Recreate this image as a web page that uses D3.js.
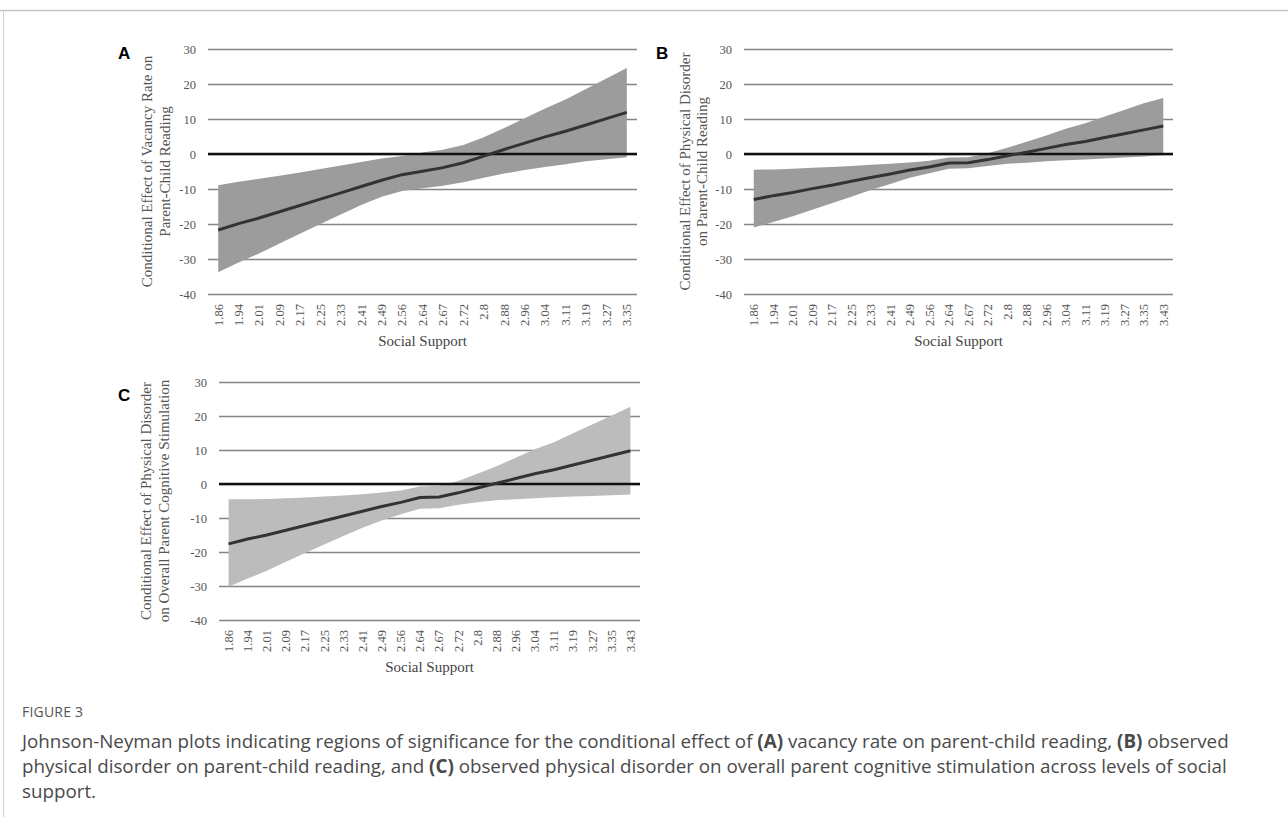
<!DOCTYPE html>
<html>
<head>
<meta charset="utf-8">
<script src="https://cdn.jsdelivr.net/npm/d3@7"></script>
<style>
  body { margin: 0; background: #fff; }
  svg { display: block; }
</style>
</head>
<body>
<svg id="fig" width="1288" height="817"></svg>
<script>
// x categories (social support levels)
const supportA = ['1.86', '1.94', '2.01', '2.09', '2.17', '2.25', '2.33', '2.41', '2.49', '2.56', '2.64',
    '2.67', '2.72', '2.8', '2.88', '2.96', '3.04', '3.11', '3.19', '3.27', '3.35'];
const supportBC = ['1.86', '1.94', '2.01', '2.09', '2.17', '2.25', '2.33', '2.41', '2.49', '2.56', '2.64',
    '2.67', '2.72', '2.8', '2.88', '2.96', '3.04', '3.11', '3.19', '3.27', '3.35', '3.43'];
const yTicks = [30, 20, 10, 0, -10, -20, -30, -40];

// A: vacancy rate -> parent-child reading
const effectA = [-21.7, -19.9, -18.3, -16.5, -14.7, -12.9, -11.1, -9.3, -7.5, -5.9, -4.9,
    -3.9, -2.5, -0.6, 1.3, 3.1, 4.9, 6.5, 8.3, 10.1, 11.9];
const upperA = [-8.9, -7.9, -7.1, -6.2, -5.3, -4.3, -3.3, -2.3, -1.3, -0.6, 0.4,
    1.2, 2.6, 4.8, 7.4, 10.2, 13.0, 15.6, 18.6, 21.6, 24.6];
const lowerA = [-33.8, -31.0, -28.4, -25.6, -22.8, -20.0, -17.3, -14.6, -12.2, -10.6, -9.8,
    -9.1, -8.1, -6.8, -5.6, -4.6, -3.7, -2.9, -2.1, -1.5, -0.9];

// B: physical disorder -> parent-child reading
const effectB = [-13.0, -11.9, -11.0, -9.9, -8.9, -7.8, -6.7, -5.7, -4.6, -3.7, -2.6,
    -2.5, -1.6, -0.5, 0.5, 1.6, 2.7, 3.6, 4.7, 5.8, 6.9, 8.0];
const upperB = [-4.5, -4.4, -4.2, -3.9, -3.7, -3.4, -3.1, -2.8, -2.4, -1.9, -1.0,
    -0.9, 0.2, 1.8, 3.5, 5.3, 7.2, 8.8, 10.7, 12.6, 14.5, 16.0];
const lowerB = [-21.0, -19.4, -17.8, -15.9, -14.1, -12.2, -10.3, -8.6, -6.8, -5.5, -4.2,
    -4.1, -3.4, -2.8, -2.5, -2.1, -1.8, -1.6, -1.3, -1.0, -0.7, -0.3];

// C: physical disorder -> overall parent cognitive stimulation
const effectC = [-17.6, -16.2, -15.0, -13.6, -12.2, -10.8, -9.4, -8.0, -6.6, -5.4, -4.0,
    -3.8, -2.6, -1.2, 0.2, 1.6, 3.0, 4.2, 5.6, 7.0, 8.4, 9.8];
const upperC = [-4.5, -4.5, -4.4, -4.2, -4.0, -3.7, -3.4, -3.0, -2.5, -1.9, -0.7,
    -0.5, 0.9, 3.0, 5.2, 7.7, 10.2, 12.3, 14.9, 17.5, 20.1, 22.7];
const lowerC = [-30.2, -27.8, -25.5, -22.9, -20.3, -17.8, -15.3, -12.9, -10.7, -8.9, -7.3,
    -7.1, -6.1, -5.4, -4.8, -4.5, -4.2, -3.9, -3.7, -3.5, -3.3, -3.1];

const serif = '"Liberation Serif", "Times New Roman", serif';
const svg = d3.select('#fig');

// page frame
svg.append('line').attr('x1', 0).attr('x2', 1288).attr('y1', 10.5).attr('y2', 10.5)
    .attr('stroke', '#c4c4c4').attr('stroke-width', 1.5);
svg.append('line').attr('x1', 3.5).attr('x2', 3.5).attr('y1', 10).attr('y2', 817)
    .attr('stroke', '#d0d0d0').attr('stroke-width', 1);

function drawPanel(p) {
    const x = d3.scaleBand().domain(p.cats).range([p.x0, p.x1]);
    const y = d3.scaleLinear().domain([-40, 30]).range([p.y1, p.y0]);
    const cx = (d) => x(d) + x.bandwidth() / 2;
    const g = svg.append('g');

    // horizontal gridlines + y labels
    const yAxis = g.append('g')
        .attr('transform', `translate(${p.x0},0)`)
        .call(d3.axisLeft(y).tickValues(yTicks).tickSize(-(p.x1 - p.x0)).tickPadding(12)
            .tickFormat((d) => String(d)));
    yAxis.select('.domain').remove();
    yAxis.selectAll('line').attr('stroke', '#858585').attr('stroke-width', 1.6);
    yAxis.selectAll('text').attr('fill', '#555').style('font-family', serif).style('font-size', '12.5px');

    // x labels, rotated
    const xAxis = g.append('g')
        .attr('transform', `translate(0,${p.y1})`)
        .call(d3.axisBottom(x).tickSize(0));
    xAxis.select('.domain').remove();
    xAxis.selectAll('text')
        .attr('transform', 'rotate(-90)')
        .attr('text-anchor', 'end')
        .attr('x', -10)
        .attr('y', 0)
        .attr('dy', '0.35em')
        .attr('fill', '#555')
        .style('font-family', serif)
        .style('font-size', '12.5px');

    // confidence band
    const area = d3.area()
        .x((d, i) => cx(p.cats[i]))
        .y0((d, i) => y(p.lower[i]))
        .y1((d) => y(d));
    g.append('path').datum(p.upper).attr('d', area).attr('fill', p.fill);

    // zero line
    g.append('line').attr('x1', p.x0).attr('x2', p.x1).attr('y1', y(0)).attr('y2', y(0))
        .attr('stroke', '#111').attr('stroke-width', 2.6);

    // conditional effect
    const line = d3.line().x((d, i) => cx(p.cats[i])).y((d) => y(d));
    g.append('path').datum(p.effect).attr('d', line)
        .attr('fill', 'none').attr('stroke', '#333').attr('stroke-width', 3);

    // axis titles
    const midY = (p.y0 + p.y1) / 2;
    p.title.forEach((t, i) => {
        g.append('text')
            .attr('transform', `translate(${p.titleX[i]},${midY}) rotate(-90)`)
            .attr('text-anchor', 'middle')
            .attr('dy', '0.35em')
            .attr('fill', '#555')
            .style('font-family', serif)
            .style('font-size', '15px')
            .text(t);
    });
    g.append('text')
        .attr('x', (p.x0 + p.x1) / 2).attr('y', p.xTitleY)
        .attr('text-anchor', 'middle').attr('dy', '0.35em')
        .attr('fill', '#444')
        .style('font-family', serif).style('font-size', '15px')
        .text('Social Support');

    // panel letter
    g.append('text')
        .attr('x', p.letterX).attr('y', p.letterY)
        .attr('dy', '0.35em')
        .attr('fill', '#000')
        .style('font-family', '"Liberation Sans", Arial, sans-serif')
        .style('font-weight', 'bold')
        .style('font-size', '17px')
        .text(p.letter);
}

drawPanel({
    cats: supportA, effect: effectA, upper: upperA, lower: lowerA, fill: '#9c9c9c',
    x0: 208, x1: 637, y0: 49, y1: 294,
    title: ['Conditional Effect of Vacancy Rate on', 'Parent-Child Reading'], titleX: [147, 165],
    xTitleY: 341, letter: 'A', letterX: 118, letterY: 53
});
drawPanel({
    cats: supportBC, effect: effectB, upper: upperB, lower: lowerB, fill: '#9c9c9c',
    x0: 744, x1: 1173, y0: 49, y1: 294,
    title: ['Conditional Effect of Physical Disorder', 'on Parent-Child Reading'], titleX: [685, 702],
    xTitleY: 341, letter: 'B', letterX: 656, letterY: 53
});
drawPanel({
    cats: supportBC, effect: effectC, upper: upperC, lower: lowerC, fill: '#bcbcbc',
    x0: 219, x1: 640, y0: 382, y1: 620,
    title: ['Conditional Effect of Physical Disorder', 'on Overall Parent Cognitive Stimulation'], titleX: [146, 164],
    xTitleY: 667, letter: 'C', letterX: 118, letterY: 395
});

// caption
const sans = '"Open Sans", "Noto Sans", sans-serif';
svg.append('text')
    .attr('x', 22).attr('y', 712).attr('dy', '0.35em')
    .attr('fill', '#555')
    .style('font-family', sans).style('font-size', '14px').style('letter-spacing', '0.2px')
    .text('FIGURE 3');

const captionLines = [
    [['Johnson-Neyman plots indicating regions of significance for the conditional effect of ', false], ['(A)', true],
        [' vacancy rate on parent-child reading, ', false], ['(B)', true], [' observed', false]],
    [['physical disorder on parent-child reading, and ', false], ['(C)', true],
        [' observed physical disorder on overall parent cognitive stimulation across levels of social', false]],
    [['support.', false]]
];
captionLines.forEach((parts, i) => {
    const t = svg.append('text')
        .attr('x', 22).attr('y', 741 + i * 25).attr('dy', '0.35em')
        .attr('fill', '#4a4a4a')
        .style('font-family', sans).style('font-size', '18.8px');
    parts.forEach(([s, bold]) => {
        t.append('tspan').style('font-weight', bold ? 'bold' : 'normal').text(s);
    });
});
</script>
</body>
</html>
